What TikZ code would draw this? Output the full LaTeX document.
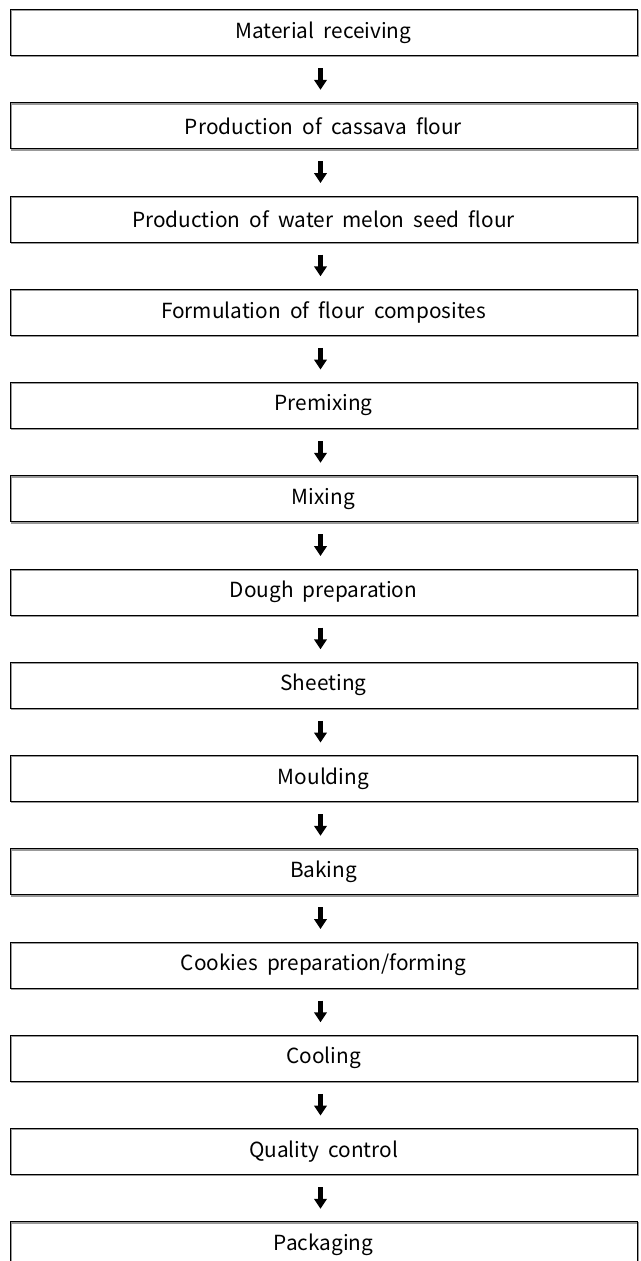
\documentclass[tikz,border=0pt]{standalone}
\usepackage{fontspec}
\setmainfont{Noto Sans CJK KR}[WordSpace=2.0]
\usetikzlibrary{arrows.meta}
\tikzset{
  stepbox/.style={draw=black, line width=1pt, minimum width=627pt, minimum height=46pt,
    inner sep=0pt, font=\fontsize{20.8}{24}\selectfont,
    preaction={draw=black!40, line width=1.1pt, transform canvas={xshift=1.2pt,yshift=-1.2pt}}},
  flowarrow/.style={line width=4.6pt, -{Triangle[width=12.5pt,length=10pt]}},
}
\begin{document}
\begin{tikzpicture}[x=1pt,y=-1pt]
\useasboundingbox (0,0) rectangle (640,1261);
\clip (0,0) rectangle (640,1261);
\foreach \name/\txt [count=\i from 0] in {
  s0/{Material receiving},
  s1/{Production of cassava flour},
  s2/{Production of water melon seed flour},
  s3/{Formulation of flour composites},
  s4/{Premixing},
  s5/{Mixing},
  s6/{Dough preparation},
  s7/{Sheeting},
  s8/{Moulding},
  s9/{Baking},
  s10/{Cookies preparation/forming},
  s11/{Cooling},
  s12/{Quality control},
  s13/{Packaging}}{
  \node[stepbox] (\name) at (323.5, {32.5+93.25*\i}) {\txt};
}
\foreach \a/\b in {s0/s1,s1/s2,s2/s3,s3/s4,s4/s5,s5/s6,s6/s7,s7/s8,s8/s9,s9/s10,s10/s11,s11/s12,s12/s13}{
  \draw[flowarrow] ([xshift=-3pt,yshift=-12pt]\a.south) -- ([xshift=-3pt,yshift=12.5pt]\b.north);
}
\end{tikzpicture}
\end{document}
